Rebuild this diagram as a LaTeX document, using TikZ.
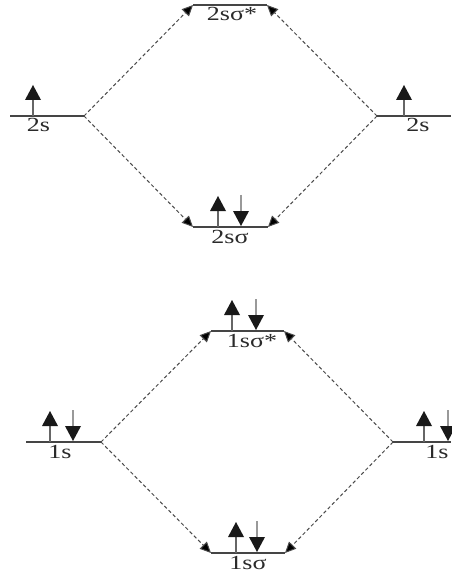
\documentclass[tikz,border=0pt]{standalone}
\usepackage{fontspec}
\setmainfont{Liberation Serif}
\usetikzlibrary{arrows.meta}
\definecolor{lvl}{HTML}{454545}
\definecolor{dash}{HTML}{4A4A4A}
\definecolor{txt}{HTML}{2A2A2A}
\newcommand{\wlab}[1]{\scalebox{1.3}[1]{#1}}
\newcommand{\elup}[2]{%
  \draw[stemup] (#1,#2) -- (#1,#2-16);
  \fill[black!90] (#1-8,#2-16) -- (#1+8,#2-16) -- (#1,#2-31) -- cycle;}
\newcommand{\eldown}[2]{%
  \draw[stemdown] (#1,#2-32) -- (#1,#2-16);
  \fill[black!90] (#1-8,#2-16) -- (#1+8,#2-16) -- (#1,#2-1) -- cycle;}
\tikzset{
  level/.style={draw=lvl, line width=1.6pt},
  corr/.style={draw=dash, line width=1pt, dash pattern=on 3.5pt off 2.5pt,
    -{Triangle[length=11pt,width=10pt,fill=black]}},
  stemup/.style={draw=black!60, line width=1.2pt},
  stemdown/.style={draw=black!40, line width=1.2pt},
  lab/.style={anchor=base, text=txt, inner sep=0pt, font=\fontsize{20}{22}\selectfont}
}
\begin{document}
\begin{tikzpicture}[x=1pt,y=-1pt]
\useasboundingbox (0,0) rectangle (451,577);
% level end points
\coordinate (a2sL) at (10,116);  \coordinate (a2sR) at (84,116);
\coordinate (b2sL) at (377,116); \coordinate (b2sR) at (451,116);
\coordinate (s2sL) at (193,5);   \coordinate (s2sR) at (267,5);
\coordinate (g2sL) at (193,227); \coordinate (g2sR) at (268,227);
\coordinate (a1sL) at (26,442);  \coordinate (a1sR) at (101,442);
\coordinate (b1sL) at (393,442); \coordinate (b1sR) at (451,442);
\coordinate (s1sL) at (211,331); \coordinate (s1sR) at (284,331);
\coordinate (g1sL) at (211,553); \coordinate (g1sR) at (285,553);
% levels
\draw[level] (a2sL) -- (a2sR);
\draw[level] (b2sL) -- (b2sR);
\draw[level] (s2sL) -- (s2sR);
\draw[level] (g2sL) -- (g2sR);
\draw[level] (a1sL) -- (a1sR);
\draw[level] (b1sL) -- (b1sR);
\draw[level] (s1sL) -- (s1sR);
\draw[level] (g1sL) -- (g1sR);
% correlation lines
\draw[corr] (a2sR) -- (s2sL);
\draw[corr] (a2sR) -- (g2sL);
\draw[corr] (b2sL) -- (s2sR);
\draw[corr] (b2sL) -- (g2sR);
\draw[corr] (a1sR) -- (s1sL);
\draw[corr] (a1sR) -- (g1sL);
\draw[corr] (b1sL) -- (s1sR);
\draw[corr] (b1sL) -- (g1sR);
% electrons
\elup{33}{116}
\elup{404}{116}
\elup{218}{227} \eldown{241}{227}
\elup{232}{331} \eldown{256}{331}
\elup{50}{442}  \eldown{73}{442}
\elup{424}{442} \eldown{448}{442}
\elup{236}{553} \eldown{257}{553}
% labels
\node[lab] (t2sa) at (38.5,132) {\wlab{2s}};
\node[lab] (t2sb) at (418,132) {\wlab{2s}};
\node[lab] (t2ss) at (232,21) {\wlab{2sσ*}};
\node[lab] (t2sg) at (230,243) {\wlab{2sσ}};
\node[lab] (t1sa) at (60,458) {\wlab{1s}};
\node[lab] (t1sb) at (437,458) {\wlab{1s}};
\node[lab] (t1ss) at (252,347) {\wlab{1sσ*}};
\node[lab] (t1sg) at (248,569) {\wlab{1sσ}};
\end{tikzpicture}
\end{document}
